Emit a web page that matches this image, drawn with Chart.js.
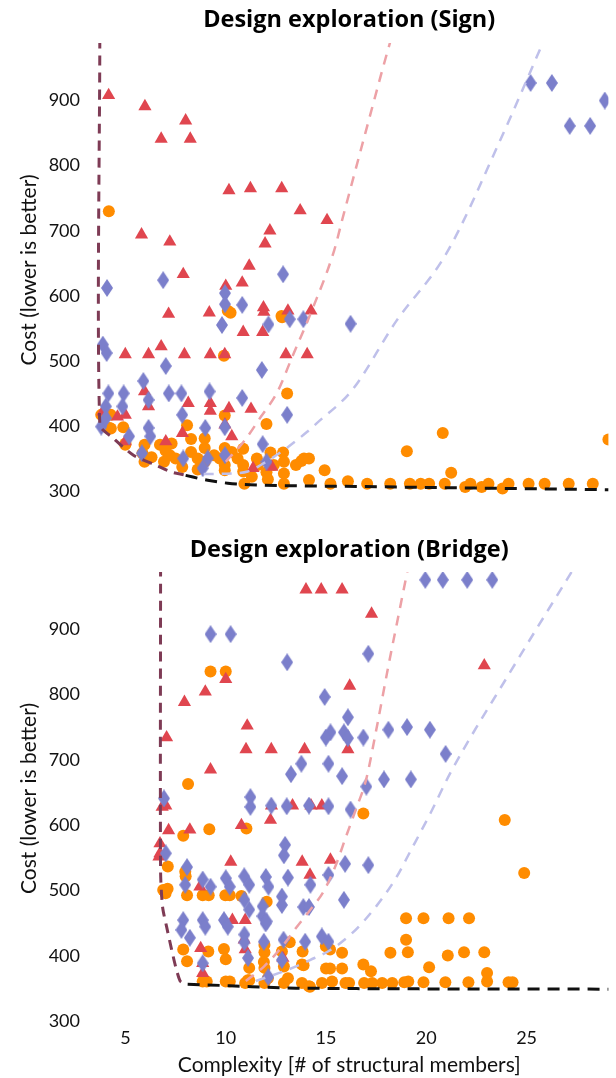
<!DOCTYPE html>
<html>
<head>
<meta charset="utf-8">
<title>Design exploration</title>
<script src="https://cdn.jsdelivr.net/npm/chart.js@4.4.1/dist/chart.umd.min.js"></script>
<style>
  html, body { margin: 0; padding: 0; background: #fff; }
  body { width: 616px; height: 1078px; position: relative; overflow: hidden; }
  #signChart { position: absolute; left: 0; top: 0; }
  #bridgeChart { position: absolute; left: 0; top: 510px; }
</style>
</head>
<body>
<canvas id="signChart" width="616" height="507"></canvas>
<canvas id="bridgeChart" width="616" height="568"></canvas>
<script>
// Tick labels
const costTicks = [300, 400, 500, 600, 700, 800, 900];
const complexityTicks = [5, 10, 15, 20, 25];

// Sign: [complexity, cost]
const signCircles = [
    [4.17, 730], [10.24, 574], [12.81, 567], [10.1, 577], [12.78, 569], [9.91, 508], [13.06, 450], [9.95, 416],
    [12.03, 403], [20.82, 389], [19.03, 361], [21.24, 328], [29.08, 379],
    [3.79, 417], [4.27, 417], [4.27, 396], [4.89, 398], [4.21, 397], [8.07, 401], [4.99, 371], [5.0, 373],
    [5.95, 371], [5.95, 345], [5.85, 358], [6.72, 371], [7.3, 373], [7.21, 355], [6.92, 345], [6.3, 352],
    [7.0, 362], [7.5, 350], [8.27, 380], [8.27, 360], [7.83, 337], [8.95, 381], [8.95, 366], [8.95, 345],
    [8.6, 350], [8.6, 333], [9.42, 355], [9.7, 350], [9.95, 366], [9.95, 340], [9.95, 332], [10.3, 360],
    [10.59, 350], [10.87, 365], [10.87, 340], [10.87, 330], [10.93, 311], [11.3, 322], [11.55, 350],
    [11.6, 340], [12.03, 329], [12.1, 318], [12.4, 340], [12.23, 359], [12.86, 359], [12.9, 345], [12.9, 327],
    [12.9, 311], [13.5, 340], [13.77, 346], [13.9, 350], [14.15, 350], [14.15, 317], [14.93, 332],
    [15.22, 311], [16.09, 315], [17.05, 311], [18.2, 311], [19.18, 311], [19.72, 311], [20.14, 311],
    [20.92, 311], [21.94, 306], [22.2, 311], [22.76, 306], [23.1, 311], [23.8, 304], [24.1, 311],
    [25.1, 311], [25.9, 311], [27.1, 311], [28.3, 311]
];
const signTriangles = [
    [4.16, 908], [5.97, 891], [6.78, 841], [8.0, 869], [8.23, 841], [10.16, 762], [11.23, 765], [12.79, 765],
    [13.71, 731], [15.05, 716], [5.8, 694], [7.21, 683], [12.2, 700], [11.96, 680],
    [11.17, 646], [7.88, 633], [10.0, 615], [10.82, 620], [7.15, 572], [9.18, 574], [11.88, 582], [11.9, 575],
    [13.1, 577], [14.25, 577], [10.87, 544], [11.84, 544], [4.99, 510], [6.15, 510], [6.78, 522], [7.94, 510],
    [9.23, 510], [9.95, 510], [13.0, 510], [14.06, 510], [5.95, 453], [8.13, 435], [9.23, 435], [9.23, 423],
    [11.26, 426], [10.16, 427], [3.87, 422], [4.99, 417], [4.6, 414], [6.15, 430], [7.84, 389], [9.96, 402],
    [10.3, 384], [4.99, 376], [7.01, 376], [11.36, 335], [12.3, 337]
];
const signDiamonds = [
    [25.2, 927], [26.26, 927], [27.15, 861], [28.17, 861], [28.9, 900],
    [4.08, 612], [6.88, 624], [12.86, 633], [9.96, 604], [9.96, 587], [10.82, 586], [9.81, 555], [12.13, 556],
    [13.87, 564], [13.19, 564], [16.22, 557], [3.87, 525], [4.06, 512], [7.01, 492], [11.8, 486], [4.15, 450],
    [4.91, 450], [5.89, 469], [6.15, 440], [7.16, 450], [7.79, 450], [9.19, 453], [10.82, 443], [13.06, 417],
    [4.02, 430], [4.85, 430], [7.83, 417], [3.79, 399], [4.02, 412], [6.15, 397], [8.98, 397], [9.95, 398],
    [5.18, 384], [6.24, 384], [11.84, 372], [5.82, 358], [7.88, 350], [9.1, 350], [9.96, 355], [12.03, 345],
    [8.85, 335]
];
const signLowerBound = [[3.72, 995], [3.72, 402], [4.4, 381], [5.4, 355], [6.5, 340], [7.3, 329], [7.9, 325]];
const signFront = [[8.0, 324], [9.1, 316.5], [10.1, 312], [11.2, 309.7], [16.5, 307], [29.1, 302]];
const signRedTrend = [[10.0, 345], [10.9, 376], [11.75, 414], [12.57, 452], [13.3, 505], [14.3, 578],
    [15.4, 669], [15.8, 716], [16.96, 850], [18.2, 990], [18.4, 1010]];
const signPurpleTrend = [[8.9, 326], [10.3, 327], [11.1, 330], [11.75, 340], [12.9, 363], [14.06, 391],
    [14.53, 404], [16.3, 455], [18.5, 561], [21.0, 665], [23.7, 840], [25.9, 995]];

// Bridge: [complexity, cost]
const bridgeCircles = [
    [9.24, 835], [10.0, 835], [8.12, 663], [16.86, 618], [23.91, 608], [24.88, 527], [7.88, 584], [9.18, 594],
    [11.03, 595], [7.11, 537], [7.98, 529], [8.0, 522], [6.88, 501], [7.0, 496], [7.1, 503], [8.07, 493],
    [8.85, 493], [9.15, 493], [9.98, 493], [10.2, 493], [10.78, 492], [12.04, 483],
    [18.99, 458], [19.86, 458], [21.11, 458], [22.13, 458], [18.99, 425], [19.08, 406], [18.21, 405],
    [21.07, 401], [21.88, 406], [22.89, 406], [20.14, 383], [23.03, 374], [24.1, 360], [24.3, 360],
    [7.88, 410], [8.07, 392], [9.13, 407], [9.91, 411], [10.0, 395], [11.93, 417], [11.93, 406], [11.9, 391],
    [13.19, 421], [12.8, 407], [13.83, 407], [14.99, 415], [15.2, 410], [15.8, 405], [11.17, 382],
    [11.93, 382], [12.9, 384], [13.8, 387], [13.88, 386], [15.0, 381], [15.2, 381], [15.8, 381], [16.86, 387],
    [17.24, 377], [8.85, 361], [9.05, 361], [10.0, 361], [10.2, 361], [10.97, 359], [11.17, 363], [11.1, 363],
    [11.93, 359], [12.1, 366], [12.9, 359], [13.1, 366], [13.8, 359], [14.15, 354], [14.2, 353], [14.8, 359],
    [15.3, 361], [15.97, 359], [16.15, 359], [16.9, 359], [17.3, 359], [17.8, 359], [18.3, 359], [18.9, 360],
    [19.1, 361], [19.86, 360], [20.95, 360], [22.1, 360], [23.03, 361]
];
const bridgeTriangles = [
    [14.0, 960], [14.76, 960], [15.8, 960], [17.27, 923], [22.89, 844], [10.0, 823], [8.98, 804], [7.94, 788],
    [16.18, 813], [11.07, 752], [7.05, 734], [11.01, 716], [12.27, 716], [13.93, 716], [16.09, 716], [9.24, 685],
    [7.01, 630], [6.83, 628], [7.15, 592], [8.21, 593], [6.72, 572], [6.72, 557], [6.67, 552], [10.25, 544],
    [10.78, 600], [12.23, 608], [12.28, 630], [13.33, 630], [14.25, 630], [14.79, 630], [13.81, 544],
    [15.22, 547], [14.2, 524], [8.71, 506], [10.33, 455], [10.97, 455], [10.92, 425], [10.97, 410],
    [8.75, 412], [8.85, 389], [8.85, 374], [12.85, 397]
];
const bridgeDiamonds = [
    [19.95, 975], [20.82, 975], [22.04, 975], [23.29, 975], [9.24, 892], [10.24, 892], [13.06, 849],
    [17.11, 862], [14.93, 796], [16.09, 765], [15.22, 742], [14.99, 734], [15.89, 742], [16.09, 733],
    [16.86, 734], [18.11, 746], [19.04, 750], [20.18, 746], [20.96, 709], [13.77, 694], [15.12, 694],
    [13.25, 678], [15.8, 675], [17.01, 659], [17.89, 670], [19.23, 670], [6.92, 641], [11.23, 643],
    [11.23, 628], [12.27, 630], [13.04, 629], [14.15, 630], [15.12, 629], [16.22, 624], [7.01, 557],
    [12.96, 570], [12.9, 554], [15.95, 541], [17.11, 539], [15.12, 524], [14.22, 509], [8.07, 536],
    [7.98, 509], [8.85, 517], [9.24, 506], [10.0, 519], [10.2, 506], [10.92, 522], [11.17, 509], [12.0, 521],
    [12.13, 506], [13.1, 520], [12.8, 491], [12.8, 478], [13.87, 475], [14.15, 475], [15.89, 486],
    [10.93, 486], [11.17, 471], [11.84, 476], [11.83, 461], [11.99, 450], [12.04, 453], [7.88, 455],
    [7.79, 440], [8.85, 455], [8.98, 445], [9.91, 455], [10.1, 445], [10.93, 433], [10.93, 421],
    [8.21, 428], [11.9, 422], [12.88, 425], [13.96, 422], [14.79, 430], [15.12, 422], [11.11, 397],
    [8.85, 389], [12.8, 394], [12.12, 368]
];
const bridgeLowerBound = [[6.75, 995], [6.75, 530], [6.85, 475], [7.05, 445], [7.3, 410], [7.5, 384],
    [7.72, 362], [7.9, 358]];
const bridgeFront = [[8.1, 357], [10.2, 354.7], [13.5, 351], [29.1, 349.5]];
const bridgeRedTrend = [[11.0, 362], [11.9, 384], [12.9, 418], [13.5, 443], [14.2, 470], [14.9, 500],
    [15.5, 540], [16.0, 583], [16.5, 625], [17.0, 670], [17.5, 745], [18.1, 842], [18.7, 934], [19.1, 995]];
const bridgePurpleTrend = [[11.5, 362], [13.0, 378], [14.2, 394], [15.2, 409], [16.3, 435], [17.5, 476],
    [18.5, 520], [19.2, 560], [20.2, 618], [21.2, 680], [24.2, 835], [27.2, 985], [27.4, 995]];

Chart.defaults.font.family = 'Lato, "Open Sans", sans-serif';
Chart.defaults.color = '#111';

function toPoints(list) {
    return list.map(p => ({ x: p[0], y: p[1] }));
}

// narrow diamond marker
function diamondMarker(color) {
    const c = document.createElement('canvas');
    c.width = 12;
    c.height = 18;
    const g = c.getContext('2d');
    g.fillStyle = color;
    g.beginPath();
    g.moveTo(6, 0);
    g.lineTo(12, 9);
    g.lineTo(6, 18);
    g.lineTo(0, 9);
    g.closePath();
    g.fill();
    return c;
}

function dashed(list, color, width, dash, smooth) {
    return {
        data: toPoints(list),
        showLine: true,
        borderColor: color,
        borderWidth: width,
        borderDash: dash,
        pointRadius: 0,
        pointHoverRadius: 0,
        fill: false,
        cubicInterpolationMode: smooth ? 'monotone' : 'default',
        tension: smooth ? 0 : 0.25,
        order: 0
    };
}

function markers(list, color, style, radius, order) {
    return {
        data: toPoints(list),
        pointStyle: style,
        pointRadius: radius,
        pointHoverRadius: radius,
        pointBackgroundColor: color,
        pointBorderWidth: 0,
        order: order
    };
}

function buildChart(id, cfg) {
    new Chart(document.getElementById(id), {
        type: 'scatter',
        data: {
            datasets: [
                dashed(cfg.lower, '#7e3b55', 3, [10, 7], false),
                dashed(cfg.front, '#111111', 3, [12, 8], true),
                dashed(cfg.red, '#eda1a6', 2.5, [10, 8], true),
                dashed(cfg.purple, '#bfc0ea', 2.5, [10, 8], true),
                markers(cfg.diamonds, '#7b7fcb', diamondMarker('#7b7fcb'), 6, 1),
                markers(cfg.triangles, '#e0464f', 'triangle', 7.6, 2),
                markers(cfg.circles, '#ff8c00', 'circle', 6, 3)
            ]
        },
        options: {
            responsive: false,
            animation: false,
            layout: { padding: { left: 0, right: 0, top: 0, bottom: cfg.bottomPad } },
            plugins: {
                legend: { display: false },
                tooltip: { enabled: false },
                title: {
                    display: true,
                    fullSize: false,
                    text: cfg.title,
                    color: '#000',
                    font: { family: '"Open Sans", Lato, sans-serif', size: 23.5, weight: 'bold' },
                    padding: cfg.titlePad
                }
            },
            scales: {
                x: {
                    type: 'linear',
                    min: 3.231,
                    max: 29.079,
                    display: cfg.showX,
                    grid: { display: false, drawTicks: false },
                    border: { display: false },
                    afterBuildTicks: axis => {
                        axis.ticks = complexityTicks.map(v => ({ value: v }));
                    },
                    afterFit: axis => {
                        axis.height = cfg.showX ? 53 : 0;
                        axis.paddingLeft = 0;
                        axis.paddingRight = 0;
                    },
                    ticks: {
                        padding: 2,
                        color: '#111',
                        font: { size: 18 }
                    },
                    title: {
                        display: true,
                        text: 'Complexity [# of structural members]',
                        color: '#111',
                        font: { size: 21 },
                        padding: { top: 4, bottom: 0 }
                    }
                },
                y: {
                    type: 'linear',
                    min: cfg.yMin,
                    max: cfg.yMax,
                    grid: { display: false, drawTicks: false },
                    border: { display: false },
                    afterBuildTicks: axis => {
                        axis.ticks = costTicks.map(v => ({ value: v }));
                    },
                    afterFit: axis => {
                        axis.width = 90;
                        axis.paddingTop = 0;
                        axis.paddingBottom = 0;
                    },
                    ticks: {
                        padding: 10,
                        color: '#111',
                        font: { size: 18 }
                    },
                    title: {
                        display: true,
                        text: 'Cost (lower is better)',
                        color: '#111',
                        font: { size: 21 },
                        padding: { top: 17, bottom: 0 }
                    }
                }
            }
        }
    });
}

buildChart('signChart', {
    title: 'Design exploration (Sign)',
    titlePad: { top: 5.9, bottom: 8.9 },
    bottomPad: 10,
    showX: false,
    yMin: 290.8,
    yMax: 988.4,
    circles: signCircles,
    triangles: signTriangles,
    diamonds: signDiamonds,
    lower: signLowerBound,
    front: signFront,
    red: signRedTrend,
    purple: signPurpleTrend
});

buildChart('bridgeChart', {
    title: 'Design exploration (Bridge)',
    titlePad: { top: 25.9, bottom: 7.9 },
    bottomPad: 0,
    showX: true,
    yMin: 294.7,
    yMax: 987,
    circles: bridgeCircles,
    triangles: bridgeTriangles,
    diamonds: bridgeDiamonds,
    lower: bridgeLowerBound,
    front: bridgeFront,
    red: bridgeRedTrend,
    purple: bridgePurpleTrend
});
</script>
</body>
</html>
